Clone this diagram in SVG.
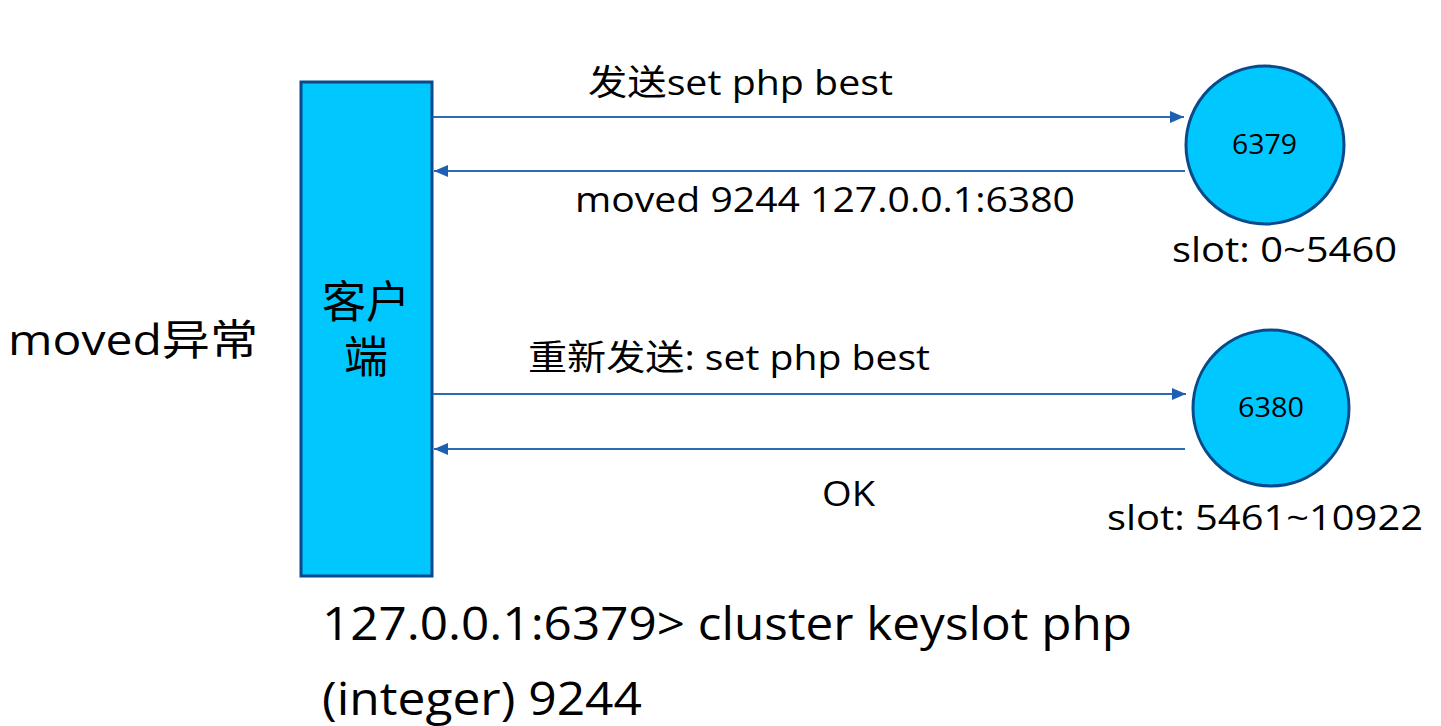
<svg xmlns="http://www.w3.org/2000/svg" width="1441" height="726" viewBox="0 0 1441 726">
<defs>
<style>
text{font-family:"Open Sans","Noto Sans CJK SC",sans-serif;fill:#000;}
.lbl{font-size:35px;}
.big{font-size:46px;}
.node{fill:#00c8ff;stroke:#0b4a8a;stroke-width:3;}
.conn{stroke:#2e6bb5;stroke-width:2;fill:none;}
</style>
<marker id="ah" viewBox="0 0 14 12" refX="14" refY="6" markerWidth="14" markerHeight="12" orient="auto-start-reverse" markerUnits="userSpaceOnUse">
<path d="M0,0 L14,6 L0,12 z" fill="#1f5fb0"/>
</marker>
</defs>
<rect width="1441" height="726" fill="#fff"/>
<text x="8" y="355" style="font-size:42px" textLength="250" lengthAdjust="spacingAndGlyphs">moved异常</text>
<g id="client">
<rect class="node" x="301" y="82" width="131" height="494"/>
<text x="366" y="318" text-anchor="middle" style="font-size:44px">客户</text>
<text x="366" y="373" text-anchor="middle" style="font-size:44px">端</text>
</g>
<g id="n6379">
<circle class="node" cx="1265" cy="145" r="79"/>
<text x="1232" y="154" style="font-size:27px" textLength="65" lengthAdjust="spacingAndGlyphs">6379</text>
<text x="1172" y="262" class="lbl" textLength="225" lengthAdjust="spacingAndGlyphs">slot: 0~5460</text>
</g>
<g id="n6380">
<circle class="node" cx="1271" cy="408" r="78"/>
<text x="1238" y="417" style="font-size:27px" textLength="66" lengthAdjust="spacingAndGlyphs">6380</text>
<text x="1107" y="530" class="lbl" textLength="316" lengthAdjust="spacingAndGlyphs">slot: 5461~10922</text>
</g>
<g id="connectors">
<line class="conn" x1="433" y1="117" x2="1184" y2="117" marker-end="url(#ah)"/>
<line class="conn" x1="1185" y1="171" x2="434" y2="171" marker-end="url(#ah)"/>
<line class="conn" x1="433" y1="394" x2="1186" y2="394" marker-end="url(#ah)"/>
<line class="conn" x1="1185" y1="449" x2="434" y2="449" marker-end="url(#ah)"/>
<text x="588" y="95" class="lbl" textLength="305" lengthAdjust="spacingAndGlyphs">发送set php best</text>
<text x="575" y="212" class="lbl" textLength="500" lengthAdjust="spacingAndGlyphs">moved 9244 127.0.0.1:6380</text>
<text x="528" y="370" class="lbl" textLength="402" lengthAdjust="spacingAndGlyphs">重新发送: set php best</text>
<text x="822" y="506" class="lbl" textLength="53" lengthAdjust="spacingAndGlyphs">OK</text>
</g>
<text x="322" y="640" class="big" textLength="810" lengthAdjust="spacingAndGlyphs">127.0.0.1:6379&gt; cluster keyslot php</text>
<text x="322" y="715" class="big" textLength="320" lengthAdjust="spacingAndGlyphs">(integer) 9244</text>
</svg>
